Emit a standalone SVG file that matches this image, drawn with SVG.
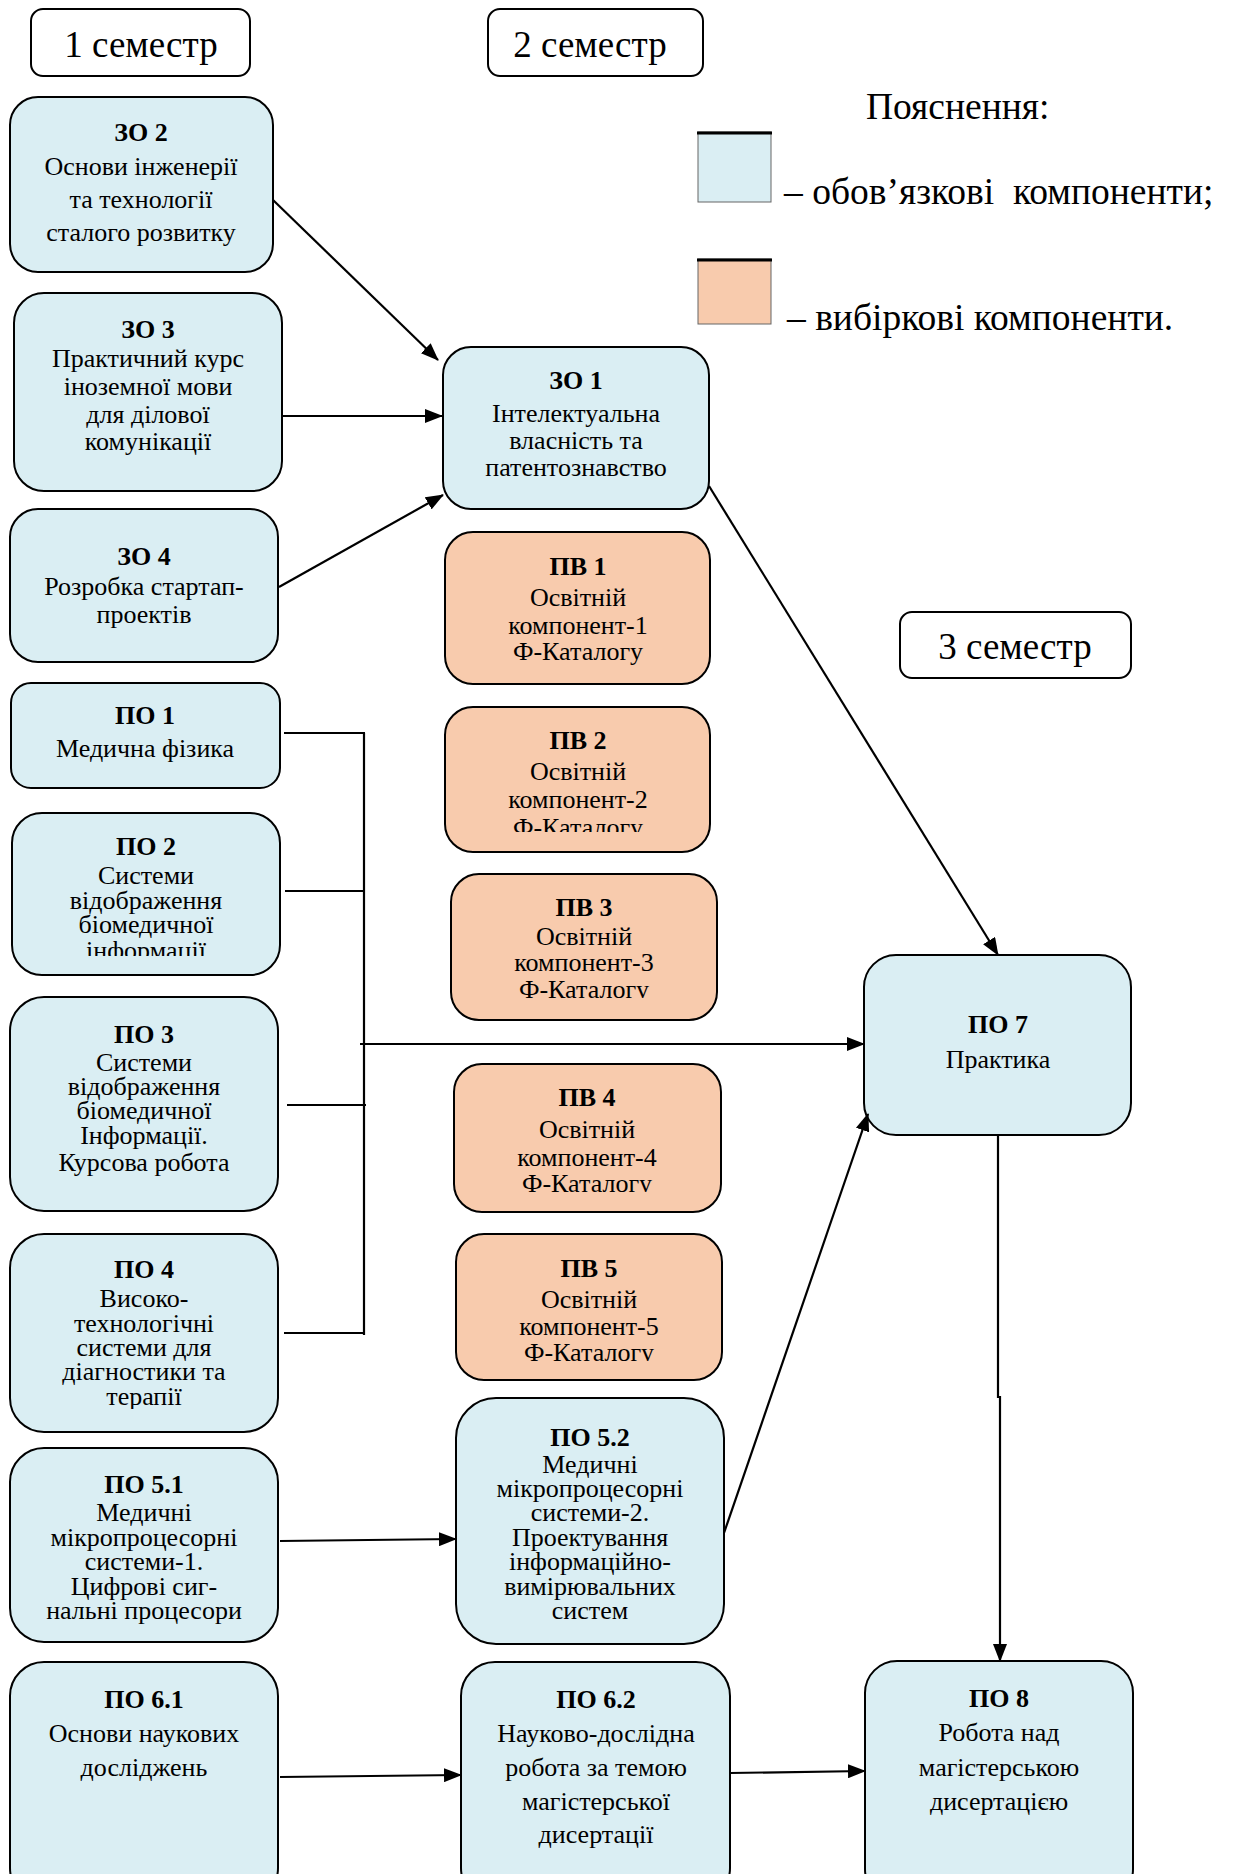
<svg xmlns="http://www.w3.org/2000/svg" width="1233" height="1874" viewBox="0 0 1233 1874">
<style>
.sem{fill:#fff;stroke:#000;stroke-width:2}
.bl{fill:#DAEEF3;stroke:#000;stroke-width:2}
.or{fill:#F8CBAD;stroke:#000;stroke-width:2}
text{font-family:"Liberation Serif","Times New Roman",serif;fill:#000}
.t{font-size:26px;text-anchor:middle}
.h{font-size:26px;font-weight:bold;text-anchor:middle}
.big{font-size:37px}
.lg{font-size:37.5px}
.c{fill:none;stroke:#000;stroke-width:2.2}
</style>
<defs>
<marker id="ar" markerUnits="userSpaceOnUse" markerWidth="18" markerHeight="14" refX="17" refY="7" orient="auto">
<path d="M0,0 L18,7 L0,14 Z" fill="#000"/>
</marker>
<clipPath id="cpv2"><rect x="440" y="700" width="280" height="132"/></clipPath>
<clipPath id="cpv3"><rect x="440" y="870" width="290" height="128"/></clipPath>
<clipPath id="cpv4"><rect x="440" y="1060" width="290" height="132"/></clipPath>
<clipPath id="cpv5"><rect x="440" y="1230" width="290" height="131"/></clipPath>
<clipPath id="cpo2"><rect x="0" y="805" width="290" height="151"/></clipPath>
<clipPath id="cpo4"><rect x="0" y="1230" width="290" height="179"/></clipPath>
</defs>

<g id="sem1"><rect class="sem" x="31" y="9" width="219" height="67" rx="12"/><text class="big" x="141" y="57" text-anchor="middle">1 семестр</text></g>
<g id="sem2"><rect class="sem" x="488" y="9" width="215" height="67" rx="12"/><text class="big" x="590" y="57" text-anchor="middle">2 семестр</text></g>
<g id="sem3"><rect class="sem" x="900" y="612" width="231" height="66" rx="12"/><text class="big" x="1015" y="659" text-anchor="middle">3 семестр</text></g>

<g id="legend">
<text class="lg" x="866" y="119">Пояснення:</text>
<rect x="698" y="132" width="73" height="70" fill="#DAEEF3" stroke="#666" stroke-width="1"/>
<line x1="697" y1="133" x2="772" y2="133" stroke="#000" stroke-width="3"/>
<text class="lg" x="784" y="204" xml:space="preserve">– обов’язкові  компоненти;</text>
<rect x="698" y="259" width="73" height="65" fill="#F8CBAD" stroke="#666" stroke-width="1"/>
<line x1="697" y1="260" x2="772" y2="260" stroke="#000" stroke-width="3"/>
<text class="lg" x="787" y="330">– вибіркові компоненти.</text>
</g>

<g id="zo2"><rect class="bl" x="10" y="97" width="263" height="175" rx="28"/>
<text class="h" x="141" y="141">ЗО 2</text>
<text class="t" x="141" y="175">Основи інженерії</text>
<text class="t" x="141" y="208">та технології</text>
<text class="t" x="141" y="241">сталого розвитку</text></g>

<g id="zo3"><rect class="bl" x="14" y="293" width="268" height="198" rx="30"/>
<text class="h" x="148" y="338">ЗО 3</text>
<text class="t" x="148" y="367">Практичний курс</text>
<text class="t" x="148" y="395">іноземної мови</text>
<text class="t" x="148" y="423">для ділової</text>
<text class="t" x="148" y="450">комунікації</text></g>

<g id="zo4"><rect class="bl" x="10" y="509" width="268" height="153" rx="28"/>
<text class="h" x="144" y="565">ЗО 4</text>
<text class="t" x="144" y="595">Розробка стартап-</text>
<text class="t" x="144" y="623">проектів</text></g>

<g id="zo1"><rect class="bl" x="443" y="347" width="266" height="162" rx="28"/>
<text class="h" x="576" y="389">ЗО 1</text>
<text class="t" x="576" y="422">Інтелектуальна</text>
<text class="t" x="576" y="449">власність та</text>
<text class="t" x="576" y="476">патентознавство</text></g>

<g id="pv1"><rect class="or" x="445" y="532" width="265" height="152" rx="28"/>
<text class="h" x="578" y="575">ПВ 1</text>
<text class="t" x="578" y="606">Освітній</text>
<text class="t" x="578" y="634">компонент-1</text>
<text class="t" x="578" y="660">Ф-Каталогу</text></g>

<g id="pv2"><rect class="or" x="445" y="707" width="265" height="145" rx="28"/>
<g clip-path="url(#cpv2)">
<text class="h" x="578" y="749">ПВ 2</text>
<text class="t" x="578" y="780">Освітній</text>
<text class="t" x="578" y="808">компонент-2</text>
<text class="t" x="578" y="836">Ф-Каталогу</text></g></g>

<g id="pv3"><rect class="or" x="451" y="874" width="266" height="146" rx="28"/>
<g clip-path="url(#cpv3)">
<text class="h" x="584" y="916">ПВ 3</text>
<text class="t" x="584" y="945">Освітній</text>
<text class="t" x="584" y="971">компонент-3</text>
<text class="t" x="584" y="998">Ф-Каталогу</text></g></g>

<g id="pv4"><rect class="or" x="454" y="1064" width="267" height="148" rx="28"/>
<g clip-path="url(#cpv4)">
<text class="h" x="587" y="1106">ПВ 4</text>
<text class="t" x="587" y="1138">Освітній</text>
<text class="t" x="587" y="1166">компонент-4</text>
<text class="t" x="587" y="1192">Ф-Каталогу</text></g></g>

<g id="pv5"><rect class="or" x="456" y="1234" width="266" height="146" rx="28"/>
<g clip-path="url(#cpv5)">
<text class="h" x="589" y="1277">ПВ 5</text>
<text class="t" x="589" y="1308">Освітній</text>
<text class="t" x="589" y="1335">компонент-5</text>
<text class="t" x="589" y="1361">Ф-Каталогу</text></g></g>

<g id="po52"><rect class="bl" x="456" y="1398" width="268" height="246" rx="40"/>
<text class="h" x="590" y="1446">ПО 5.2</text>
<text class="t" x="590" y="1473">Медичні</text>
<text class="t" x="590" y="1497">мікропроцесорні</text>
<text class="t" x="590" y="1521">системи-2.</text>
<text class="t" x="590" y="1546">Проектування</text>
<text class="t" x="590" y="1570">інформаційно-</text>
<text class="t" x="590" y="1595">вимірювальних</text>
<text class="t" x="590" y="1619">систем</text></g>

<g id="po62"><rect class="bl" x="461" y="1662" width="269" height="240" rx="34"/>
<text class="h" x="596" y="1708">ПО 6.2</text>
<text class="t" x="596" y="1742">Науково-дослідна</text>
<text class="t" x="596" y="1776">робота за темою</text>
<text class="t" x="596" y="1810">магістерської</text>
<text class="t" x="596" y="1843">дисертації</text></g>

<g id="po1"><rect class="bl" x="11" y="683" width="269" height="105" rx="20"/>
<text class="h" x="145" y="724">ПО 1</text>
<text class="t" x="145" y="757">Медична фізика</text></g>

<g id="po2"><rect class="bl" x="12" y="813" width="268" height="162" rx="30"/>
<g clip-path="url(#cpo2)">
<text class="h" x="146" y="855">ПО 2</text>
<text class="t" x="146" y="884">Системи</text>
<text class="t" x="146" y="909">відображення</text>
<text class="t" x="146" y="933">біомедичної</text>
<text class="t" x="146" y="959">інформації</text></g></g>

<g id="po3"><rect class="bl" x="10" y="997" width="268" height="214" rx="34"/>
<text class="h" x="144" y="1043">ПО 3</text>
<text class="t" x="144" y="1071">Системи</text>
<text class="t" x="144" y="1095">відображення</text>
<text class="t" x="144" y="1119">біомедичної</text>
<text class="t" x="144" y="1144">Інформації.</text>
<text class="t" x="144" y="1171">Курсова робота</text></g>

<g id="po4"><rect class="bl" x="10" y="1234" width="268" height="198" rx="34"/>
<g clip-path="url(#cpo4)">
<text class="h" x="144" y="1278">ПО 4</text>
<text class="t" x="144" y="1307">Високо-</text>
<text class="t" x="144" y="1332">технологічні</text>
<text class="t" x="144" y="1356">системи для</text>
<text class="t" x="144" y="1380">діагностики та</text>
<text class="t" x="144" y="1405">терапії</text></g></g>

<g id="po51"><rect class="bl" x="10" y="1448" width="268" height="194" rx="34"/>
<text class="h" x="144" y="1493">ПО 5.1</text>
<text class="t" x="144" y="1521">Медичні</text>
<text class="t" x="144" y="1546">мікропроцесорні</text>
<text class="t" x="144" y="1570">системи-1.</text>
<text class="t" x="144" y="1595">Цифрові сиг-</text>
<text class="t" x="144" y="1619">нальні процесори</text></g>

<g id="po61"><rect class="bl" x="10" y="1662" width="268" height="240" rx="34"/>
<text class="h" x="144" y="1708">ПО 6.1</text>
<text class="t" x="144" y="1742">Основи наукових</text>
<text class="t" x="144" y="1776">досліджень</text></g>

<g id="po7"><rect class="bl" x="864" y="955" width="267" height="180" rx="32"/>
<text class="h" x="998" y="1033">ПО 7</text>
<text class="t" x="998" y="1068">Практика</text></g>

<g id="po8"><rect class="bl" x="865" y="1661" width="268" height="240" rx="32"/>
<text class="h" x="999" y="1707">ПО 8</text>
<text class="t" x="999" y="1741">Робота над</text>
<text class="t" x="999" y="1776">магістерською</text>
<text class="t" x="999" y="1810">дисертацією</text></g>

<g id="connectors">
<line class="c" x1="273" y1="200" x2="438" y2="360" marker-end="url(#ar)"/>
<line class="c" x1="282" y1="416" x2="442" y2="416" marker-end="url(#ar)"/>
<line class="c" x1="279" y1="587" x2="443" y2="495" marker-end="url(#ar)"/>
<line class="c" x1="709" y1="486" x2="998" y2="955" marker-end="url(#ar)"/>
<path class="c" d="M284,733 H365 M364,733 V1335 M285,891 H365 M287,1105 H366 M284,1333 H365"/>
<line class="c" x1="360" y1="1044" x2="864" y2="1044" marker-end="url(#ar)"/>
<line class="c" x1="724" y1="1533" x2="868" y2="1114" marker-end="url(#ar)"/>
<path class="c" d="M998,1135 V1397 H1000 V1661" marker-end="url(#ar)"/>
<line class="c" x1="280" y1="1541" x2="456" y2="1539" marker-end="url(#ar)"/>
<line class="c" x1="280" y1="1777" x2="461" y2="1775" marker-end="url(#ar)"/>
<line class="c" x1="730" y1="1773" x2="865" y2="1771" marker-end="url(#ar)"/>
</g>
</svg>
